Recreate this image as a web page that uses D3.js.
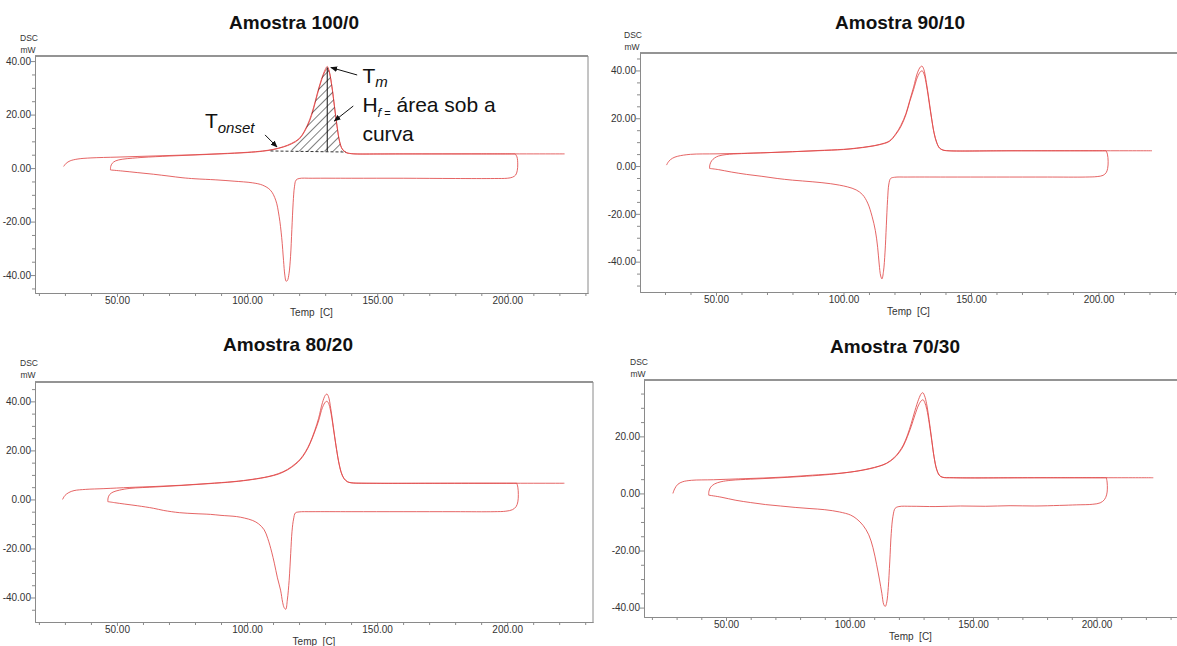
<!DOCTYPE html>
<html>
<head>
<meta charset="utf-8">
<script src="https://d3js.org/d3.v7.min.js"></script>
<style>
	body { margin: 0; background: #fff; }
	svg { display: block; font-family: "Liberation Sans", Arial, sans-serif; }
	.axis path, .axis line { stroke: #8a8a8a; stroke-width: 1; }
	.axis text { font-size: 10px; fill: #333; }
	.run { fill: none; stroke: #e04a4a; stroke-width: 1; stroke-opacity: 0.85; }
</style>
</head>
<body>
<svg id="chart" width="1177" height="646"></svg>
<script>
// each panel = one DSC run: 1st heating, cooling, 2nd heating ([temp C, mW])
const heat1_100 = [[29.5,0.6],[30.5,1.8],[32,2.7],[35,3.4],[40,3.8],[50,4.1],[60,4.4],[70,4.7],[80,5.0],[90,5.4],[100,5.9],[106,6.4],[110,7.0],[114,8.0],[117,9.2],[120,11],[122,13.8],[124,18],[125.5,22.5],[127,28],[128.5,33],[130,36.8],[130.8,38],[131.5,36.5],[132.5,31],[133.5,23.5],[134.5,16],[135.5,10],[136.5,7.2],[138,5.9],[140,5.4],[150,5.3],[170,5.3],[190,5.3],[203,5.3]]
const cool_100 = [[203,5.3],[203.7,4.2],[204,1.5],[203.8,-1],[203.2,-2.6],[202,-3.4],[200,-3.8],[195,-3.9],[180,-3.9],[160,-3.8],[140,-3.8],[125,-3.8],[120,-3.9],[118.8,-4.5],[118.2,-7],[117.7,-13],[117.2,-23],[116.7,-33],[116.1,-39.5],[115.5,-42],[115,-42.3],[114.5,-40],[114,-34.5],[113.3,-26],[112.3,-18],[111,-12],[109,-8.3],[106,-6.4],[102,-5.5],[95,-4.9],[88,-4.4],[80,-4.0],[75,-3.6],[70,-3.0],[64,-2.3],[58,-1.7],[52,-1.1],[47.5,-0.7]]
const heat2_100 = [[47.5,-0.7],[47.6,0.6],[48.2,1.8],[49.5,2.7],[52,3.3],[56,3.7],[60,4.0],[70,4.5],[80,4.9],[90,5.3],[100,5.8],[106,6.3],[110,6.9],[114,7.9],[117,9.0],[120,10.8],[122,13.5],[124,17.5],[125.5,22],[127,27.5],[128.5,32.5],[130,36.2],[130.9,37.3],[131.6,35.8],[132.6,30.5],[133.6,23],[134.6,15.5],[135.6,9.8],[136.6,7.1],[138,5.8],[140,5.4],[160,5.3],[190,5.3],[222,5.3]]

const heat1_90 = [[30.6,0.4],[31.5,2],[33,3.3],[35,4.1],[40,4.9],[50,5.1],[60,5.3],[70,5.6],[80,6.0],[90,6.5],[100,7.0],[105,7.5],[110,8.2],[114,9],[118,10.5],[120.5,13.5],[122.5,17],[124.5,22],[126,27.5],[127.5,33],[129,39],[130.2,41.5],[130.8,41.8],[131.5,40.5],[132.5,35],[133.5,28],[134.5,20.5],[135.5,14],[136.5,10],[137.6,7.6],[139,6.7],[141,6.4],[160,6.4],[180,6.4],[203,6.4]]
const cool_90 = [[203,6.4],[203.5,5],[203.8,2],[203.6,-1],[203,-2.8],[201.8,-3.9],[199.5,-4.4],[195,-4.6],[180,-4.6],[160,-4.6],[140,-4.6],[125,-4.6],[120,-4.7],[118.5,-5.2],[117.8,-7.5],[117.3,-14],[116.8,-25],[116.3,-36],[115.7,-44],[115.1,-47.2],[114.6,-46],[114,-41],[113.4,-34],[112.5,-27],[111.2,-21],[109.5,-15.5],[107.5,-12],[105,-10],[101.5,-8.7],[95,-7.4],[88,-6.6],[80,-5.9],[74,-5.2],[68,-4.3],[62,-3.5],[56,-2.5],[51,-1.5],[47.5,-1.0]]
const heat2_90 = [[47.5,-1.0],[47.6,0.5],[48.3,2.2],[49.5,3.4],[51,4.2],[54,4.8],[60,5.2],[70,5.6],[80,6.0],[90,6.4],[100,6.9],[105,7.4],[110,8.1],[114,8.9],[118,10.3],[120.5,13.2],[122.5,16.5],[124.5,21.5],[126,27],[127.5,32],[129,37.2],[130.3,39.6],[130.9,39.8],[131.6,38.5],[132.6,33.5],[133.6,26.5],[134.6,19.5],[135.6,13.5],[136.6,9.7],[137.7,7.5],[139,6.7],[141,6.4],[170,6.4],[200,6.4],[221,6.4]]

const heat1_80 = [[29.1,0.0],[30,1.6],[31.5,2.8],[33.5,3.6],[38,4.1],[45,4.4],[55,4.9],[65,5.3],[75,5.8],[85,6.5],[95,7.3],[102,8.2],[108,9.3],[112,10.5],[115.5,12.2],[118.5,14.5],[120.5,16.5],[122.5,19.5],[124.2,23],[126,28],[127.5,33],[129,39.5],[130.1,42.5],[130.7,43],[131.3,42],[132.2,37],[133.2,29.5],[134.2,22],[135.2,15.5],[136.2,11],[137.2,8.6],[138.5,7.3],[140,6.8],[145,6.6],[170,6.6],[203.7,6.6]]
const cool_80 = [[203.7,6.6],[204.1,5],[204.3,2],[204.1,-1],[203.4,-3],[202,-4.2],[199.5,-4.8],[195,-5.0],[180,-5.0],[160,-5.0],[140,-5.0],[125,-5.0],[120,-5.1],[118.6,-5.5],[117.9,-8],[117.3,-13],[116.8,-22],[116.2,-33],[115.5,-41],[114.9,-44.8],[114.3,-44.2],[113.7,-42],[112.9,-37],[111.7,-32],[110.5,-26],[109.5,-21.5],[108,-16],[106.6,-12.4],[104.5,-10],[102.2,-8.6],[99,-7.6],[96,-7.0],[90,-6.5],[86,-6.1],[80,-5.8],[74,-5.4],[68,-4.5],[64,-3.6],[58,-2.6],[53,-1.9],[49,-1.3],[46.5,-0.9]]
const heat2_80 = [[46.5,-0.9],[46.6,0.6],[47.2,2.0],[48.5,3.0],[51,3.8],[55,4.5],[65,5.1],[75,5.7],[85,6.4],[95,7.2],[102,8.1],[108,9.2],[112,10.3],[115.5,12],[118.5,14.2],[120.5,16.2],[122.5,19.2],[124.2,22.7],[126,27.5],[127.5,32],[129,37.5],[130.2,39.8],[130.8,40],[131.5,38.8],[132.4,34.5],[133.4,27.5],[134.4,20.5],[135.4,14.5],[136.4,10.5],[137.4,8.4],[138.6,7.2],[140,6.8],[150,6.6],[190,6.6],[222,6.6]]

const heat1_70 = [[28.5,0.0],[29.2,1.6],[30.5,3.2],[32.5,4.1],[36,4.6],[45,4.8],[55,5.1],[65,5.4],[75,5.8],[85,6.4],[95,7.0],[102,7.7],[108,8.7],[112,9.6],[115,10.6],[118,12.5],[120,14.5],[121.8,17],[123.5,20.5],[125,24.5],[126.5,29],[128,33],[129.1,35],[129.7,35.3],[130.4,34.2],[131.2,31.5],[132.2,26],[133.2,19.5],[134.2,13],[135.2,8.6],[136.3,6.4],[137.5,5.7],[142,5.5],[170,5.5],[204,5.5]]
const cool_70 = [[204,5.5],[204.3,4],[204.4,1.5],[204.1,-0.5],[203.2,-2.2],[201.5,-3.3],[198.5,-3.8],[192,-4.0],[185,-4.2],[175,-4.4],[165,-4.3],[155,-4.5],[145,-4.4],[135,-4.6],[125,-4.5],[120,-4.6],[118.5,-5.2],[117.6,-8],[116.9,-14],[116.3,-24],[115.7,-33],[115.1,-38],[114.5,-39.6],[113.9,-39],[113.1,-35],[112.1,-30],[111,-25],[109.5,-19],[107.8,-14.5],[105.5,-11.2],[103,-9],[100.5,-7.6],[96,-6.5],[90,-5.7],[84,-5.3],[78,-4.9],[72,-4.4],[66,-3.9],[60,-3.2],[54,-2.4],[48,-1.3],[43,-0.6]]
const heat2_70 = [[43,-0.6],[43.1,0.8],[43.8,2.2],[45.3,3.3],[48,4.1],[52,4.6],[60,5.0],[70,5.4],[80,5.9],[90,6.5],[97,7.1],[103,7.8],[108,8.6],[112,9.5],[115,10.5],[118,12.3],[120,14.2],[121.8,16.6],[123.5,20],[125,23.5],[126.5,27.5],[128,31],[129.2,32.6],[129.8,32.8],[130.5,31.8],[131.3,29.5],[132.3,24.5],[133.3,18.5],[134.3,12.5],[135.3,8.5],[136.4,6.4],[137.6,5.7],[142,5.5],[180,5.5],[223,5.5]]

const titles = ["Amostra 100/0", "Amostra 90/10", "Amostra 80/20", "Amostra 70/30"]
const xMajor = [50, 100, 150, 200]
const yMajor = [-40, -20, 0, 20, 40]

// Tm / onset construction on the 100/0 melting peak
const tOnset = 109, tEnd = 138, tm = 130.8, hfBase = 6.2
const hatchFrom = 117, hatchTo = 137.5

// frame geometry of the four screenshots
const layout = [
	{ left: 35, right: 588, top: 56, bottom: 293, xDom: [18.5, 231], yDom: [-46.7, 41.9], tx: 294, ty: 29, ux: 29, uy: 41, frame: true },
	{ left: 640, right: 1177, top: 53, bottom: 292, xDom: [20.2, 230.8], yDom: [-52.7, 47.3], tx: 900, ty: 29, ux: 633, uy: 38, frame: false },
	{ left: 35, right: 593, top: 382, bottom: 622, xDom: [18.5, 233], yDom: [-50, 47.9], tx: 288, ty: 351, ux: 29, uy: 366, frame: true },
	{ left: 644, right: 1177, top: 380, bottom: 617, xDom: [16.8, 232.6], yDom: [-43.3, 39.75], tx: 895, ty: 353, ux: 639, uy: 365, frame: false }
]
const runs = [
	[heat1_100, cool_100, heat2_100],
	[heat1_90, cool_90, heat2_90],
	[heat1_80, cool_80, heat2_80],
	[heat1_70, cool_70, heat2_70]
]

const svg = d3.select("#chart")
const defs = svg.append("defs")
defs.append("marker").attr("id", "arr").attr("viewBox", "0 0 10 10").attr("refX", 9).attr("refY", 5)
	.attr("markerWidth", 7).attr("markerHeight", 7).attr("orient", "auto-start-reverse")
	.append("path").attr("d", "M0,1 L10,5 L0,9 z").attr("fill", "#111")
const hatch = defs.append("pattern").attr("id", "hatch").attr("patternUnits", "userSpaceOnUse")
	.attr("width", 6).attr("height", 6).attr("patternTransform", "rotate(45)")
hatch.append("line").attr("x1", 0).attr("y1", 0).attr("x2", 0).attr("y2", 6).attr("stroke", "#000").attr("stroke-width", 1)

const fmt = d => d.toFixed(2)

const drawPanel = (p, series, title) => {
	const xs = d3.scaleLinear().domain(p.xDom).range([p.left, p.right])
	const ys = d3.scaleLinear().domain(p.yDom).range([p.bottom, p.top])
	const g = svg.append("g")

	g.append("text").attr("x", p.tx).attr("y", p.ty).attr("text-anchor", "middle")
		.style("font-size", "19px").style("font-weight", "bold").style("fill", "#111").text(title)
	g.append("text").attr("x", p.ux).attr("y", p.uy).attr("text-anchor", "middle")
		.style("font-size", "8.5px").style("fill", "#333").text("DSC")
	g.append("text").attr("x", p.ux - 1).attr("y", p.uy + 12).attr("text-anchor", "middle")
		.style("font-size", "8.5px").style("fill", "#333").text("mW")

	// top border (and right one when it is inside the picture)
	g.append("line").attr("x1", p.left).attr("x2", p.right).attr("y1", p.top).attr("y2", p.top)
		.attr("stroke", "#707070").attr("stroke-width", 1.3)
	if (p.frame) {
		g.append("line").attr("x1", p.right).attr("x2", p.right).attr("y1", p.top).attr("y2", p.bottom)
			.attr("stroke", "#8a8a8a")
	}

	const xMinor = d3.range(20, 240, 10).filter(v => v > p.xDom[0] && v < p.xDom[1] && !xMajor.includes(v))
	const yMinor = d3.range(-50, 50, 5).filter(v => v > p.yDom[0] && v < p.yDom[1] && !yMajor.includes(v))
	const yMaj = yMajor.filter(v => v > p.yDom[0] && v < p.yDom[1])

	g.append("g").attr("class", "axis").attr("transform", `translate(0,${p.bottom})`)
		.call(d3.axisBottom(xs).tickValues(xMinor).tickSizeInner(3).tickSizeOuter(0).tickFormat(""))
	g.append("g").attr("class", "axis").attr("transform", `translate(0,${p.bottom})`)
		.call(d3.axisBottom(xs).tickValues(xMajor).tickSizeInner(4).tickSizeOuter(0).tickPadding(0).tickFormat(fmt))
	g.append("g").attr("class", "axis").attr("transform", `translate(${p.left},0)`)
		.call(d3.axisLeft(ys).tickValues(yMinor).tickSizeInner(3).tickSizeOuter(0).tickFormat(""))
	g.append("g").attr("class", "axis").attr("transform", `translate(${p.left},0)`)
		.call(d3.axisLeft(ys).tickValues(yMaj).tickSizeInner(4).tickSizeOuter(0).tickPadding(0).tickFormat(fmt))

	g.append("text").attr("x", (p.left + Math.min(p.right, 1180)) / 2).attr("y", p.bottom + 23)
		.attr("text-anchor", "middle").style("font-size", "10px").style("fill", "#333")
		.attr("xml:space", "preserve").text("Temp  [C]")

	const line = d3.line().x(d => xs(d[0])).y(d => ys(d[1])).curve(d3.curveCatmullRom.alpha(0.5))
	series.forEach(s => {
		g.append("path").datum(s).attr("class", "run").attr("d", line)
	})
	return { g, xs, ys }
}

const panels = layout.map((p, i) => drawPanel(p, runs[i], titles[i]))

// annotations on the first panel
const { g: g1, xs: x1, ys: y1 } = panels[0]
const peakPts = heat1_100.filter(d => d[0] >= hatchFrom && d[0] <= hatchTo)
g1.append("path").datum(peakPts)
	.attr("d", d3.area().x(d => x1(d[0])).y0(y1(hfBase)).y1(d => y1(d[1])).curve(d3.curveCatmullRom.alpha(0.5)))
	.attr("fill", "url(#hatch)")
g1.append("line").attr("x1", x1(tOnset)).attr("x2", x1(tEnd)).attr("y1", y1(hfBase + 0.2)).attr("y2", y1(hfBase - 0.2))
	.attr("stroke", "#333").attr("stroke-width", 1).attr("stroke-dasharray", "3,2")
g1.append("line").attr("x1", x1(tm)).attr("x2", x1(tm)).attr("y1", y1(37.6)).attr("y2", y1(hfBase))
	.attr("stroke", "#111").attr("stroke-width", 1)

const arrows = [
	{ from: [142.3, 34.8], to: [132.2, 37.6] },
	{ from: [140.8, 23.2], to: [133.5, 17.6] },
	{ from: [106.9, 12.4], to: [111.5, 7.9] }
]
arrows.forEach(a => {
	g1.append("line").attr("x1", x1(a.from[0])).attr("y1", y1(a.from[1]))
		.attr("x2", x1(a.to[0])).attr("y2", y1(a.to[1]))
		.attr("stroke", "#111").attr("stroke-width", 1).attr("marker-end", "url(#arr)")
})

const annoStyle = t => t.style("font-size", "21px").style("fill", "#111")
const tmLabel = g1.append("text").attr("x", x1(144.3)).attr("y", y1(31.8)).call(annoStyle)
tmLabel.append("tspan").text("T")
tmLabel.append("tspan").attr("dy", 4).style("font-size", "15px").style("font-style", "italic").text("m")

const hfLabel = g1.append("text").attr("x", x1(144.3)).attr("y", y1(21)).call(annoStyle)
hfLabel.append("tspan").text("H")
hfLabel.append("tspan").attr("dy", 5).style("font-size", "13px").style("font-style", "italic").text("f")
hfLabel.append("tspan").style("font-size", "11px").text(" =")
hfLabel.append("tspan").attr("dy", -5).text(" área sob a")
g1.append("text").attr("x", x1(144.3)).attr("y", y1(10.1)).call(annoStyle).text("curva")

const onLabel = g1.append("text").attr("x", x1(83.8)).attr("y", y1(15)).call(annoStyle)
onLabel.append("tspan").text("T")
onLabel.append("tspan").attr("dy", 5).style("font-size", "15px").style("font-style", "italic").text("onset")
</script>
</body>
</html>
